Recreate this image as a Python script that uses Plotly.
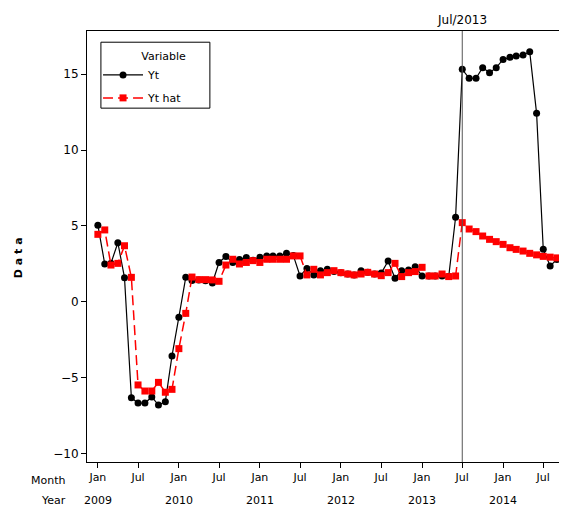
import pandas as pd
import plotly.graph_objects as go

start_month = "2009-01-01"
n_months = 70
months = pd.date_range(start_month, periods=n_months, freq="MS")

yt = [5.05, 2.5, 2.55, 3.9, 1.6, -6.3, -6.65, -6.65, -6.25, -6.78,
      -6.56, -3.55, -1.0, 1.62, 1.42, 1.45, 1.4, 1.25, 2.6, 3.0,
      2.6, 2.8, 2.92, 2.75, 2.94, 3.03, 3.03, 3.03, 3.2, 3.05,
      1.71, 2.21, 1.78, 2.06, 2.15, 2.0, 1.93, 1.84, 1.78, 2.06,
      1.95, 1.84, 1.9, 2.7, 1.56, 2.06, 2.1, 2.32, 1.71, 1.71,
      1.71, 1.71, 1.67, 5.57, 15.31, 14.72, 14.72, 15.42, 15.09, 15.42,
      15.96, 16.1, 16.18, 16.25, 16.47, 12.41, 3.47, 2.37, 2.8, 2.43]

yt_hat = [4.45, 4.74, 2.43, 2.54, 3.7, 1.62, -5.46, -5.86, -5.86, -5.29,
          -5.94, -5.75, -3.07, -0.75, 1.64, 1.47, 1.47, 1.45, 1.36, 2.43,
          2.81, 2.5, 2.6, 2.72, 2.6, 2.81, 2.81, 2.81, 2.81, 3.03,
          3.03, 1.78, 2.15, 1.78, 1.93, 2.06, 1.93, 1.84, 1.78, 1.84,
          1.95, 1.84, 1.73, 1.93, 2.54, 1.67, 1.93, 2.0, 2.28, 1.71,
          1.71, 1.84, 1.67, 1.71, 5.22, 4.8, 4.63, 4.34, 4.12, 3.97,
          3.79, 3.57, 3.46, 3.35, 3.2, 3.1, 3.0, 2.95, 2.9, 2.8]

tick_dates = ["2009-01-01", "2009-07-01", "2010-01-01", "2010-07-01",
              "2011-01-01", "2011-07-01", "2012-01-01", "2012-07-01",
              "2013-01-01", "2013-07-01", "2014-01-01", "2014-07-01"]
tick_text = ["Jan", "Jul", "Jan", "Jul", "Jan", "Jul",
             "Jan", "Jul", "Jan", "Jul", "Jan", "Jul"]
year_dates = ["2009-01-01", "2010-01-01", "2011-01-01",
              "2012-01-01", "2013-01-01", "2014-01-01"]
year_labels = ["2009", "2010", "2011", "2012", "2013", "2014"]
y_ticks = [-10, -5, 0, 5, 10, 15]
ref_date = "2013-07-01"
ref_label = "Jul/2013"

FONT = "DejaVu Sans"

fig = go.Figure()
fig.add_trace(go.Scatter(
    x=months, y=yt, name="Yt", mode="lines+markers", legendgroup="a",
    line=dict(color="black", width=1.2),
    marker=dict(symbol="circle", size=7, color="black"),
))
fig.add_trace(go.Scatter(
    x=months, y=yt_hat, name="Yt hat", mode="lines+markers", legendgroup="b",
    line=dict(color="red", width=1.5, dash="10px,5px"),
    marker=dict(symbol="square", size=7, color="red"),
))

# reference line
fig.add_shape(type="line", xref="x", yref="paper", x0=ref_date, x1=ref_date,
              y0=0, y1=1, line=dict(color="#555555", width=1))
fig.add_annotation(x=ref_date, xref="x", y=1, yref="paper", text=ref_label,
                   showarrow=False, yanchor="middle", yshift=11,
                   font=dict(family=FONT, size=12, color="black"))

# legend frame
fig.add_shape(type="rect", xref="paper", yref="paper",
              x0=0.029, x1=0.256, y0=0.821, y1=0.974,
              line=dict(color="black", width=1), fillcolor="rgba(0,0,0,0)")

for d, lab in zip(year_dates, year_labels):
    fig.add_annotation(x=d, xref="x", y=0, yref="paper", text=lab,
                       showarrow=False, yanchor="middle", yshift=-38,
                       font=dict(family=FONT, size=11, color="black"))

fig.add_annotation(x=0, xref="paper", y=0, yref="paper", text="Month",
                   showarrow=False, xanchor="right", yanchor="middle",
                   xshift=-19, yshift=-18,
                   font=dict(family=FONT, size=11, color="black"))
fig.add_annotation(x=0, xref="paper", y=0, yref="paper", text="Year",
                   showarrow=False, xanchor="right", yanchor="middle",
                   xshift=-19, yshift=-38,
                   font=dict(family=FONT, size=11, color="black"))
fig.add_annotation(x=0, xref="paper", y=0.473, yref="paper",
                   text="<b>D a t a</b>", textangle=-90,
                   showarrow=False, xanchor="center", yanchor="middle",
                   xshift=-69,
                   font=dict(family=FONT, size=11, color="black"))

# page body has an 8px margin; the figure is sized to fill the rest
fig.update_layout(
    width=559, height=499,
    margin=dict(l=79, r=0, t=23, b=45),
    paper_bgcolor="white", plot_bgcolor="white",
    font=dict(family=FONT, size=12, color="black"),
    showlegend=True,
    legend=dict(
        x=0.023, y=0.965, xanchor="left", yanchor="top",
        borderwidth=0, bgcolor="rgba(0,0,0,0)",
        title=dict(text="Variable", side="top right",
                   font=dict(family=FONT, size=11)),
        font=dict(family=FONT, size=11),
        itemwidth=40, tracegroupgap=4,
    ),
    xaxis=dict(
        type="date",
        range=["2008-11-13", "2014-10-16"],
        tickvals=tick_dates, ticktext=tick_text,
        ticks="outside", ticklen=5, tickcolor="black",
        showline=True, linecolor="black", linewidth=1, mirror=True,
        showgrid=False, zeroline=False,
        tickfont=dict(family=FONT, size=11),
    ),
    yaxis=dict(
        range=[-10.53, 17.83],
        tickvals=y_ticks,
        ticks="outside", ticklen=5, tickcolor="black",
        showline=True, linecolor="black", linewidth=1,
        showgrid=False, zeroline=False,
        tickfont=dict(family=FONT, size=12),
    ),
)

fig.write_html("out.html")
